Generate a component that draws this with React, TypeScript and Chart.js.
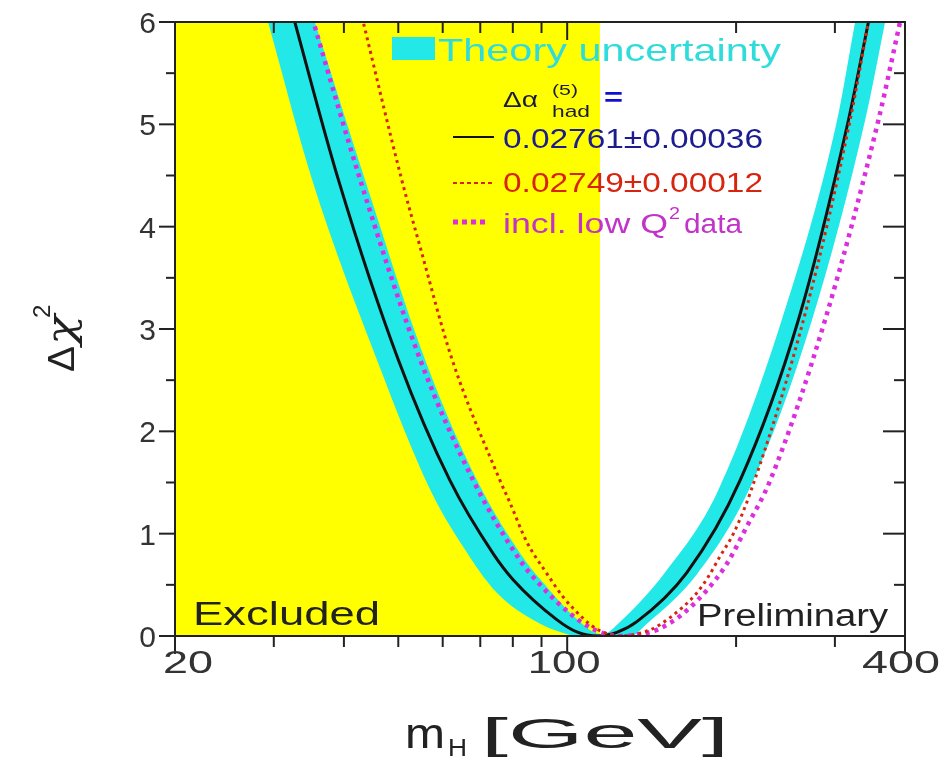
import React, { useEffect, useRef } from 'react';
import { Chart, registerables } from 'chart.js';

Chart.register(...registerables);

// ---------- data ----------
const X_MIN = 20;
const X_MAX = 400;
const Y_MIN = 0;
const Y_MAX = 6;

// LEP direct-search excluded region
const excludedMh = [20, 114.4];
const excludedChi2 = [6, 6];

// Theory-uncertainty band: lower envelope
const bandLowerMh = [26.5, 29.3, 35.1, 45.8, 57.0, 65.3, 75.0, 89.5, 101.2, 103.3, 129.5, 138.7, 170.2, 211.8, 273.2, 339.6, 368.6, 400];
const bandLowerChi2 = [6.85, 6.0, 4.46, 2.7, 1.43, 0.87, 0.42, 0.12, 0.01, 0.0, 0.0, 0.12, 0.6, 1.45, 3.09, 5.04, 6.0, 7.0];

// Theory-uncertainty band: upper envelope
const bandUpperMh = [26.5, 35.5, 43.6, 55.8, 69.1, 84.1, 91.3, 103.3, 114.4, 115.9, 124.3, 149.4, 185.0, 241.6, 302.7, 326.0, 400];
const bandUpperChi2 = [8.2, 6.0, 4.46, 2.7, 1.52, 0.74, 0.5, 0.18, 0.02, 0.02, 0.14, 0.62, 1.4, 3.1, 5.04, 6.0, 8.5];

// Δα_had = 0.02761 ± 0.00036 (solid black)
const blackMh = [30, 32.7, 39.1, 50.0, 61.8, 73.9, 80.1, 95.8, 104, 113.5, 122.6, 133.1, 163.4, 203.3, 258.3, 317.1, 344.3, 380];
const blackChi2 = [6.76, 6.0, 4.46, 2.7, 1.52, 0.8, 0.55, 0.16, 0.04, 0.0, 0.035, 0.14, 0.62, 1.52, 3.09, 5.04, 6.0, 7.15];

// Δα_had = 0.02749 ± 0.00012 (red dashed)
const redMh = [40, 43.3, 50.7, 54.7, 62.2, 75.9, 79.1, 84.7, 92.0, 98.4, 106.9, 111.3, 116.8, 124, 140.5, 152.5, 170.2, 178.5, 187.3, 197.8, 212, 267, 319.3, 344.3, 375];
const redChi2 = [6.78, 6.0, 4.46, 3.8, 2.72, 1.52, 1.3, 0.92, 0.61, 0.38, 0.17, 0.09, 0.03, 0.0, 0.06, 0.18, 0.42, 0.58, 0.78, 1.0, 1.4, 3.2, 5.04, 6.0, 7.1];

// incl. low Q^2 data (magenta dotted)
const magentaMh = [32, 35.3, 42.75, 54.7, 68.0, 82.4, 89.5, 101.2, 112, 124, 135, 144.5, 163.4, 191.2, 209, 230, 288.2, 358.6, 392, 420];
const magentaChi2 = [6.8, 6.0, 4.46, 2.7, 1.52, 0.74, 0.5, 0.22, 0.06, 0.0, 0.02, 0.06, 0.25, 0.68, 1.07, 1.52, 3.09, 5.04, 6.0, 6.74];

// axis ticks
const xTickValues = [20, 30, 40, 50, 60, 70, 80, 90, 100, 200, 300, 400];
const xLabelValues = [20, 100, 400];
const xLabelTexts = ['20', '100', '400'];
const yTickValues = [0, 0.5, 1, 1.5, 2, 2.5, 3, 3.5, 4, 4.5, 5, 5.5, 6];
const yLabelValues = [0, 1, 2, 3, 4, 5, 6];
const yLabelTexts = ['0', '1', '2', '3', '4', '5', '6'];

// legend / annotation texts
const legendBandText = 'Theory uncertainty';
const legendBlackText = '0.02761\u00b10.00036';
const legendRedText = '0.02749\u00b10.00012';
const legendMagentaText1 = 'incl. low Q';
const legendMagentaText2 = 'data';
const excludedText = 'Excluded';
const prelimText = 'Preliminary';

// ---------- styles ----------
const FONT = '"Liberation Sans", Arial, Helvetica, sans-serif';
const YELLOW = '#ffff00';
const CYAN = '#22e8e8';
const BLACK = '#111111';
const RED = '#d8240f';
const MAGENTA = '#dd2edd';
const NAVY = '#1c1c90';
const FRAME = '#222222';

const pts = (xs: number[], ys: number[]) => xs.map((x, i) => ({ x, y: ys[i] }));

function drawFit(
  ctx: CanvasRenderingContext2D,
  text: string,
  x: number,
  y: number,
  size: number,
  color: string,
  width?: number,
  align: 'left' | 'center' | 'right' = 'left',
  weight = 'normal',
  family = FONT
) {
  ctx.save();
  ctx.font = `${weight} ${size}px ${family}`;
  ctx.fillStyle = color;
  ctx.textBaseline = 'alphabetic';
  ctx.textAlign = 'left';
  const w = ctx.measureText(text).width;
  const sx = width ? width / w : 1;
  const tw = w * sx;
  const x0 = align === 'center' ? x - tw / 2 : align === 'right' ? x - tw : x;
  ctx.translate(x0, y);
  ctx.scale(sx, 1);
  ctx.fillText(text, 0, 0);
  ctx.restore();
  return tw;
}

function seg(ctx: CanvasRenderingContext2D, x1: number, y1: number, x2: number, y2: number) {
  ctx.beginPath();
  ctx.moveTo(x1, y1);
  ctx.lineTo(x2, y2);
  ctx.stroke();
}

const framePlugin = {
  id: 'framePlugin',
  afterDatasetsDraw(chart: any) {
    const { ctx, chartArea: a, scales } = chart;
    const xs = scales.x;
    const ys = scales.y;
    ctx.save();
    ctx.strokeStyle = FRAME;
    ctx.lineWidth = 2;
    ctx.strokeRect(a.left, a.top, a.right - a.left, a.bottom - a.top);
    for (const v of yTickValues) {
      const py = ys.getPixelForValue(v);
      const major = Number.isInteger(v);
      seg(ctx, a.left - (major ? 16 : 9), py, a.left, py);
      seg(ctx, a.right - (major ? 22 : 11), py, a.right, py);
    }
    for (const v of xTickValues) {
      const px = xs.getPixelForValue(v);
      const major = xLabelValues.includes(v);
      seg(ctx, px, a.bottom, px, a.bottom + (major ? 18 : 11));
      seg(ctx, px, a.top, px, a.top + (major ? 18 : 11));
    }
    ctx.restore();

    // tick labels
    yLabelValues.forEach((v, i) => {
      const py = ys.getPixelForValue(v);
      drawFit(ctx, yLabelTexts[i], a.left - 19, py + 11, 30, '#333', undefined, 'right');
    });
    const xOffsets = [13, -3, -4];
    const xWidths = [50, 73, 78];
    xLabelValues.forEach((v, i) => {
      const px = xs.getPixelForValue(v) + xOffsets[i];
      drawFit(ctx, xLabelTexts[i], px, a.bottom + 37, 32, '#333', xWidths[i], 'center');
    });

    // axis titles
    const bx = 405;
    const by = 748;
    let w = drawFit(ctx, 'm', bx, by, 42, '#222', 40);
    drawFit(ctx, 'H', bx + w + 3, by + 8, 23, '#222', 19);
    drawFit(ctx, '[GeV]', bx + 76, by, 42, '#222', 248);

    ctx.save();
    ctx.translate(74, 372);
    ctx.rotate(-Math.PI / 2);
    w = drawFit(ctx, '\u0394', 0, 0, 36, '#222', 26);
    const w2 = drawFit(ctx, '\u03c7', w + 1, 0, 40, '#222', 30, 'left', 'italic', '"DejaVu Serif", serif');
    drawFit(ctx, '2', w + w2 - 2, -24, 24, '#222');
    ctx.restore();

    // annotations
    drawFit(ctx, excludedText, 193, 625, 33, '#222', 187);
    drawFit(ctx, prelimText, 697, 626, 31, '#222', 191);

    // legend
    ctx.save();
    ctx.fillStyle = CYAN;
    ctx.fillRect(392, 37, 43, 23);
    ctx.restore();
    drawFit(ctx, legendBandText, 438, 61, 32, '#2fdcdc', 343);

    drawFit(ctx, '\u0394\u03b1', 503, 107, 22, '#1a1a40', 35);
    drawFit(ctx, '(5)', 552, 95, 15, '#1a1a40', 26);
    drawFit(ctx, 'had', 552, 117, 17, '#1a1a40', 38);
    drawFit(ctx, '=', 604, 106, 26, '#1010d0', 19, 'left', 'bold');

    ctx.save();
    ctx.lineWidth = 2;
    ctx.strokeStyle = BLACK;
    seg(ctx, 453, 137, 494, 137);
    ctx.strokeStyle = RED;
    ctx.setLineDash([4, 3]);
    seg(ctx, 453, 183, 494, 183);
    ctx.strokeStyle = MAGENTA;
    ctx.lineWidth = 5;
    ctx.setLineDash([5, 4]);
    seg(ctx, 453, 222, 485, 222);
    ctx.restore();

    drawFit(ctx, legendBlackText, 503, 148, 27, NAVY, 260);
    drawFit(ctx, legendRedText, 503, 192, 27, RED, 260);
    const w1 = drawFit(ctx, legendMagentaText1, 503, 233, 27, '#c233c8', 165);
    drawFit(ctx, '2', 503 + w1 + 1, 219, 17, '#c233c8', 11);
    drawFit(ctx, legendMagentaText2, 503 + w1 + 16, 233, 27, '#c233c8', 58);
  },
};

export default function App() {
  const canvasRef = useRef<HTMLCanvasElement | null>(null);

  useEffect(() => {
    const canvas = canvasRef.current;
    if (!canvas) return;
    const common = {
      pointRadius: 0,
      pointHoverRadius: 0,
      cubicInterpolationMode: 'monotone' as const,
    };
    const chart = new Chart(canvas, {
      type: 'line',
      data: {
        datasets: [
          {
            label: 'excluded',
            data: pts(excludedMh, excludedChi2),
            borderWidth: 0,
            borderColor: 'rgba(0,0,0,0)',
            backgroundColor: YELLOW,
            fill: 'start',
            order: 10,
            tension: 0,
            pointRadius: 0,
          },
          {
            label: 'band lower',
            data: pts(bandLowerMh, bandLowerChi2),
            borderWidth: 0,
            borderColor: 'rgba(0,0,0,0)',
            backgroundColor: CYAN,
            fill: false,
            order: 9,
            ...common,
          },
          {
            label: 'Theory uncertainty',
            data: pts(bandUpperMh, bandUpperChi2),
            borderWidth: 0,
            borderColor: 'rgba(0,0,0,0)',
            backgroundColor: CYAN,
            fill: 1,
            order: 8,
            ...common,
          },
          {
            label: '0.02761±0.00036',
            data: pts(blackMh, blackChi2),
            borderWidth: 3,
            borderColor: BLACK,
            fill: false,
            order: 7,
            ...common,
          },
          {
            label: 'incl. low Q2 data',
            data: pts(magentaMh, magentaChi2),
            borderWidth: 4.5,
            borderColor: MAGENTA,
            borderDash: [4, 5],
            fill: false,
            order: 6,
            ...common,
          },
          {
            label: '0.02749±0.00012',
            data: pts(redMh, redChi2),
            borderWidth: 3,
            borderColor: RED,
            borderDash: [3, 4],
            fill: false,
            order: 5,
            ...common,
          },
        ],
      },
      options: {
        responsive: false,
        animation: false,
        devicePixelRatio: 1,
        layout: { padding: { left: 175, right: 40, top: 22, bottom: 129 } },
        scales: {
          x: { type: 'logarithmic', min: X_MIN, max: X_MAX, display: false },
          y: { type: 'linear', min: Y_MIN, max: Y_MAX, display: false },
        },
        plugins: {
          legend: { display: false },
          tooltip: { enabled: false },
          filler: { propagate: false },
        },
        events: [],
      },
      plugins: [framePlugin],
    });
    return () => chart.destroy();
  }, []);

  return (
    <div style={{ position: 'fixed', left: 0, top: 0, width: 945, height: 765, background: '#ffffff' }}>
      <canvas ref={canvasRef} width={945} height={765} style={{ display: 'block' }} />
    </div>
  );
}
